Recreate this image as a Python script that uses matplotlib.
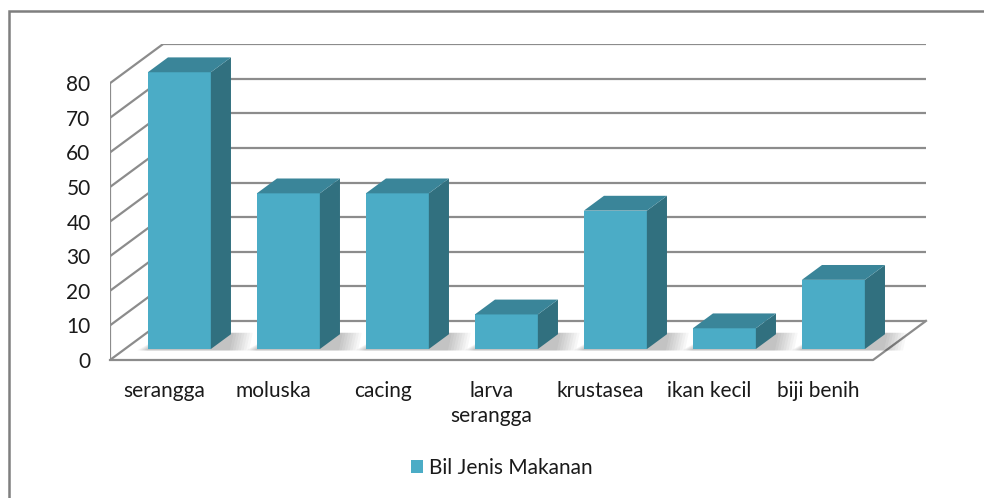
import numpy as np
import matplotlib
matplotlib.use('Agg')
import matplotlib.pyplot as plt
from matplotlib.patches import Polygon, Rectangle

categories = ['serangga', 'moluska', 'cacing', 'larva\nserangga', 'krustasea', 'ikan kecil', 'biji benih']
values = [80, 45, 45, 10, 40, 6, 20]
yticks = [0, 10, 20, 30, 40, 50, 60, 70, 80]
series_name = 'Bil Jenis Makanan'

# fake 3d: oblique offset for full depth (x in category units, y in value units)
ox, oy = 0.486, 11.3
d0, d1 = 0.28, 0.66   # bar front / back depth
bw = 0.578
front_c = '#4BACC6'
side_c = '#31707F'
top_c = '#3A8599'
grid_c = '#8C8C8C'
txt_c = '#1A1A1A'

plt.rcParams['font.family'] = ['Lato', 'DejaVu Sans']

fig = plt.figure(figsize=(9.84, 4.98), dpi=100)
W, H = 984, 498
ax = fig.add_axes([110 / W, (H - 360) / H, 816 / W, (80 + oy) * 3.46 / H])
ax.set_xlim(-0.5, 6.5 + ox)
ax.set_ylim(0, 80 + oy)
for s in ax.spines.values():
    s.set_visible(False)

# walls and floor
x0, x1 = -0.5, len(categories) - 0.5
for v in yticks:
    ax.plot([x0 + ox, x1 + ox], [v + oy, v + oy], color=grid_c, lw=1.6, zorder=1)
    ax.plot([x0, x0 + ox], [v, v + oy], color=grid_c, lw=1.6, zorder=1)
ax.plot([x0, x0], [0, 80], color=grid_c, lw=1.6, zorder=1)
ax.plot([x0, x1, x1 + ox], [0, 0, oy], color=grid_c, lw=1.6, zorder=1, clip_on=False)

# soft shadows on the floor
for i, v in enumerate(values):
    xl = i - bw / 2 + d0 * ox
    for k in range(8):
        e = 0.025 * (k + 1)
        ax.add_patch(Polygon([(xl - e * 0.5, d0 * oy - 0.4), (xl + bw + 0.15 + e, d0 * oy - 0.4),
                              (xl + bw + (d1 - d0) * ox + e, d1 * oy + 0.4),
                              (xl + (d1 - d0) * ox, d1 * oy + 0.4)],
                             closed=True, fc='#000000', ec='none', alpha=0.03, zorder=2))

# bars
xs = np.arange(len(values)) - bw / 2 + d0 * ox
ax.bar(xs, values, width=bw, bottom=d0 * oy, align='edge', color=front_c, zorder=3)
dx, dy = (d1 - d0) * ox, (d1 - d0) * oy
for xl, v in zip(xs, values):
    yb, yt = d0 * oy, d0 * oy + v
    ax.add_patch(Polygon([(xl + bw, yb), (xl + bw + dx, yb + dy), (xl + bw + dx, yt + dy), (xl + bw, yt)],
                         closed=True, fc=side_c, ec='none', zorder=3))
    ax.add_patch(Polygon([(xl, yt), (xl + bw, yt), (xl + bw + dx, yt + dy), (xl + dx, yt + dy)],
                         closed=True, fc=top_c, ec='none', zorder=3))

ax.set_yticks(yticks)
ax.set_yticklabels([str(t) for t in yticks], fontsize=15, color=txt_c)
ax.set_xticks(np.arange(len(categories)))
ax.set_xticklabels(categories, fontsize=15, color=txt_c, linespacing=1.3)
ax.tick_params(axis='y', length=0, pad=14)
ax.tick_params(axis='x', length=0, pad=15)
for lbl in ax.get_xticklabels():
    lbl.set_verticalalignment('top')

# legend
leg = fig.legend(handles=[Rectangle((0, 0), 1, 1, fc=front_c)], labels=[series_name],
                 loc='center', bbox_to_anchor=(502 / W, (H - 468) / H), frameon=False,
                 fontsize=15, handlelength=0.55, handleheight=0.55, handletextpad=0.3)
for t in leg.get_texts():
    t.set_color(txt_c)

# outer chart border
fig.patches.append(Rectangle((9 / W, -0.05), 1.1, (H - 11) / H + 0.05, transform=fig.transFigure,
                             fill=False, ec='#7F7F7F', lw=1.8))

fig.savefig('out.png', dpi=100)
